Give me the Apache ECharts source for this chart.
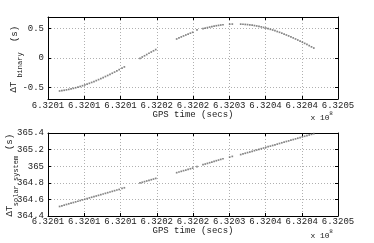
<!DOCTYPE html>
<html><head><meta charset="utf-8">
<script src="https://cdn.jsdelivr.net/npm/echarts@6/dist/echarts.min.js"></script>
<style>html,body{margin:0;padding:0;background:#fff}#c{width:374px;height:243px}</style>
</head><body><div id="c"></div>
<script>
const gpsTimes = [
  632006600, 632006916, 632007232, 632007548, 632007864, 632008180, 632008496, 632008812, 632009128, 632009444,
  632009760, 632010076, 632010392, 632010708, 632011024, 632011340, 632011656, 632011972, 632012288, 632012604,
  632012920, 632013236, 632013552, 632013868, 632014184, 632014500, 632014816,
  632015210, 632015530,
  632017690, 632018000, 632018310, 632018620, 632018930, 632019240, 632019550, 632019860,
  632022750, 632023065, 632023380, 632023695, 632024010, 632024325, 632024640, 632024955,
  632025550,
  632026380, 632026686, 632026992, 632027298, 632027604, 632027910, 632028216, 632028522, 632028828, 632029134,
  632030060, 632030420,
  632031580, 632031895, 632032210, 632032525, 632032840, 632033155, 632033470, 632033785, 632034100, 632034415,
  632034730, 632035045, 632035360, 632035675, 632035990, 632036305, 632036620, 632036935, 632037250, 632037565,
  632037880, 632038195, 632038510, 632038825, 632039140, 632039455, 632039770, 632040085, 632040400, 632040715,
  632041030, 632041345, 632041660
];
const binaryDelay = [
  -0.563, -0.558, -0.551, -0.544, -0.536, -0.528, -0.518, -0.508, -0.497, -0.486,
  -0.473, -0.460, -0.446, -0.432, -0.417, -0.402, -0.386, -0.369, -0.352, -0.335,
  -0.316, -0.298, -0.279, -0.260, -0.240, -0.220, -0.199,
  -0.174, -0.152,
  -0.005, 0.017, 0.038, 0.059, 0.081, 0.102, 0.123, 0.144,
  0.325, 0.343, 0.360, 0.377, 0.393, 0.409, 0.424, 0.439,
  0.480,
  0.500, 0.510, 0.519, 0.528, 0.536, 0.544, 0.551, 0.557, 0.563, 0.568,
  0.577, 0.579,
  0.578, 0.576, 0.573, 0.570, 0.565, 0.560, 0.554, 0.547, 0.539, 0.531,
  0.522, 0.512, 0.501, 0.490, 0.478, 0.466, 0.452, 0.439, 0.424, 0.409,
  0.393, 0.377, 0.360, 0.343, 0.325, 0.307, 0.289, 0.270, 0.250, 0.231,
  0.211, 0.190, 0.170
];
const solarDelay = [
  364.515, 364.523, 364.531, 364.539, 364.547, 364.555, 364.562, 364.570, 364.578, 364.586,
  364.594, 364.602, 364.610, 364.618, 364.626, 364.634, 364.641, 364.649, 364.657, 364.665,
  364.673, 364.681, 364.689, 364.697, 364.705, 364.713, 364.720,
  364.732, 364.740,
  364.798, 364.806, 364.814, 364.822, 364.829, 364.837, 364.845, 364.853,
  364.922, 364.930, 364.938, 364.946, 364.953, 364.961, 364.969, 364.977,
  364.995,
  365.018, 365.026, 365.034, 365.042, 365.050, 365.058, 365.066, 365.074, 365.082, 365.090,
  365.110, 365.118,
  365.140, 365.148, 365.156, 365.164, 365.171, 365.179, 365.187, 365.195, 365.203, 365.211,
  365.219, 365.227, 365.235, 365.242, 365.250, 365.258, 365.266, 365.274, 365.282, 365.290,
  365.298, 365.305, 365.313, 365.321, 365.329, 365.337, 365.345, 365.353, 365.361, 365.369,
  365.376, 365.384, 365.392
];
const xTickLabels = ['6.3201','6.3201','6.3201','6.3202','6.3202','6.3203','6.3204','6.3204','6.3205'];
const xMin = 632005000, xMax = 632045000, xStep = 5000;
const binaryTicks = [-0.5, 0, 0.5];
const binaryTickLabels = ['-0.5', '0', '0.5'];
const binaryRange = [-0.7, 0.7];
const solarRange = [364.4, 365.4];
const solarStep = 0.2;

const FONT = '"Liberation Mono", "DejaVu Sans Mono", monospace';
const TXT = '#222';
const gridLine = { show: true, lineStyle: { color: '#b0b0b0', type: [1, 2], width: 1 } };
const axLine = { show: true, onZero: false, lineStyle: { color: '#000', width: 1 } };
const tick = { show: true, inside: true, length: 3, lineStyle: { color: '#000' } };

function xAx(gi, pos, label, margin) {
  return {
    type: 'value', gridIndex: gi, position: pos, min: xMin, max: xMax, interval: xStep,
    axisLine: axLine, axisTick: tick, splitLine: label ? gridLine : { show: false },
    axisLabel: label ? { show: true, margin: margin, fontFamily: FONT, fontSize: 9, color: TXT,
      formatter: v => xTickLabels[Math.round((v - xMin) / xStep)] } : { show: false }
  };
}
function yBin(pos, label) {
  return {
    type: 'value', gridIndex: 0, position: pos, min: binaryRange[0], max: binaryRange[1],
    axisLine: axLine,
    axisTick: Object.assign({ customValues: binaryTicks }, tick),
    splitLine: label ? Object.assign({ customValues: binaryTicks }, gridLine) : { show: false },
    axisLabel: label ? { show: true, customValues: binaryTicks, margin: 4, fontFamily: FONT, fontSize: 9, color: TXT,
      formatter: v => binaryTickLabels[binaryTicks.indexOf(Math.round(v * 10) / 10)] } : { show: false }
  };
}
function ySol(pos, label) {
  return {
    type: 'value', gridIndex: 1, position: pos, min: solarRange[0], max: solarRange[1], interval: solarStep,
    axisLine: axLine, axisTick: tick, splitLine: label ? gridLine : { show: false },
    axisLabel: label ? { show: true, margin: 4, fontFamily: FONT, fontSize: 9, color: TXT,
      formatter: v => String(Math.round(v * 10) / 10) } : { show: false }
  };
}
const txt = (t, x, y, size, rot) => ({
  type: 'text', x: x, y: y, rotation: rot || 0,
  style: { text: t, font: size + 'px ' + FONT, fill: TXT, align: 'center', verticalAlign: 'middle' }
});

const chart = echarts.init(document.getElementById('c'));
const mk = { type: 'scatter', symbol: 'rect', symbolSize: 1.7, itemStyle: { color: '#666' }, silent: true, animation: false };
chart.setOption({
  animation: false,
  grid: [
    { left: 48, top: 17, width: 290, height: 82 },
    { left: 48, top: 133, width: 290, height: 83 }
  ],
  xAxis: [xAx(0, 'bottom', true, 2), xAx(0, 'top', false), xAx(1, 'bottom', true, 1), xAx(1, 'top', false)],
  yAxis: [yBin('left', true), yBin('right', false), ySol('left', true), ySol('right', false)],
  series: [
    Object.assign({ xAxisIndex: 0, yAxisIndex: 0, data: gpsTimes.map((t, i) => [t, binaryDelay[i]]) }, mk),
    Object.assign({ xAxisIndex: 2, yAxisIndex: 2, data: gpsTimes.map((t, i) => [t, solarDelay[i]]) }, mk)
  ],
  graphic: [
    txt('GPS time (secs)', 193, 115, 9),
    txt('GPS time (secs)', 193, 231, 9),
    txt('x 10', 320, 118, 8), txt('8', 331, 113, 6),
    txt('x 10', 320, 236, 8), txt('8', 331, 231, 6),
    txt('ΔT', 14, 87, 9, Math.PI / 2),
    txt('binary', 20, 65, 7, Math.PI / 2),
    txt('(s)', 15, 34, 9, Math.PI / 2),
    txt('ΔT', 10, 211, 9, Math.PI / 2),
    txt('solar system', 16, 181, 7, Math.PI / 2),
    txt('(s)', 10, 142, 9, Math.PI / 2)
  ]
});
</script></body></html>
